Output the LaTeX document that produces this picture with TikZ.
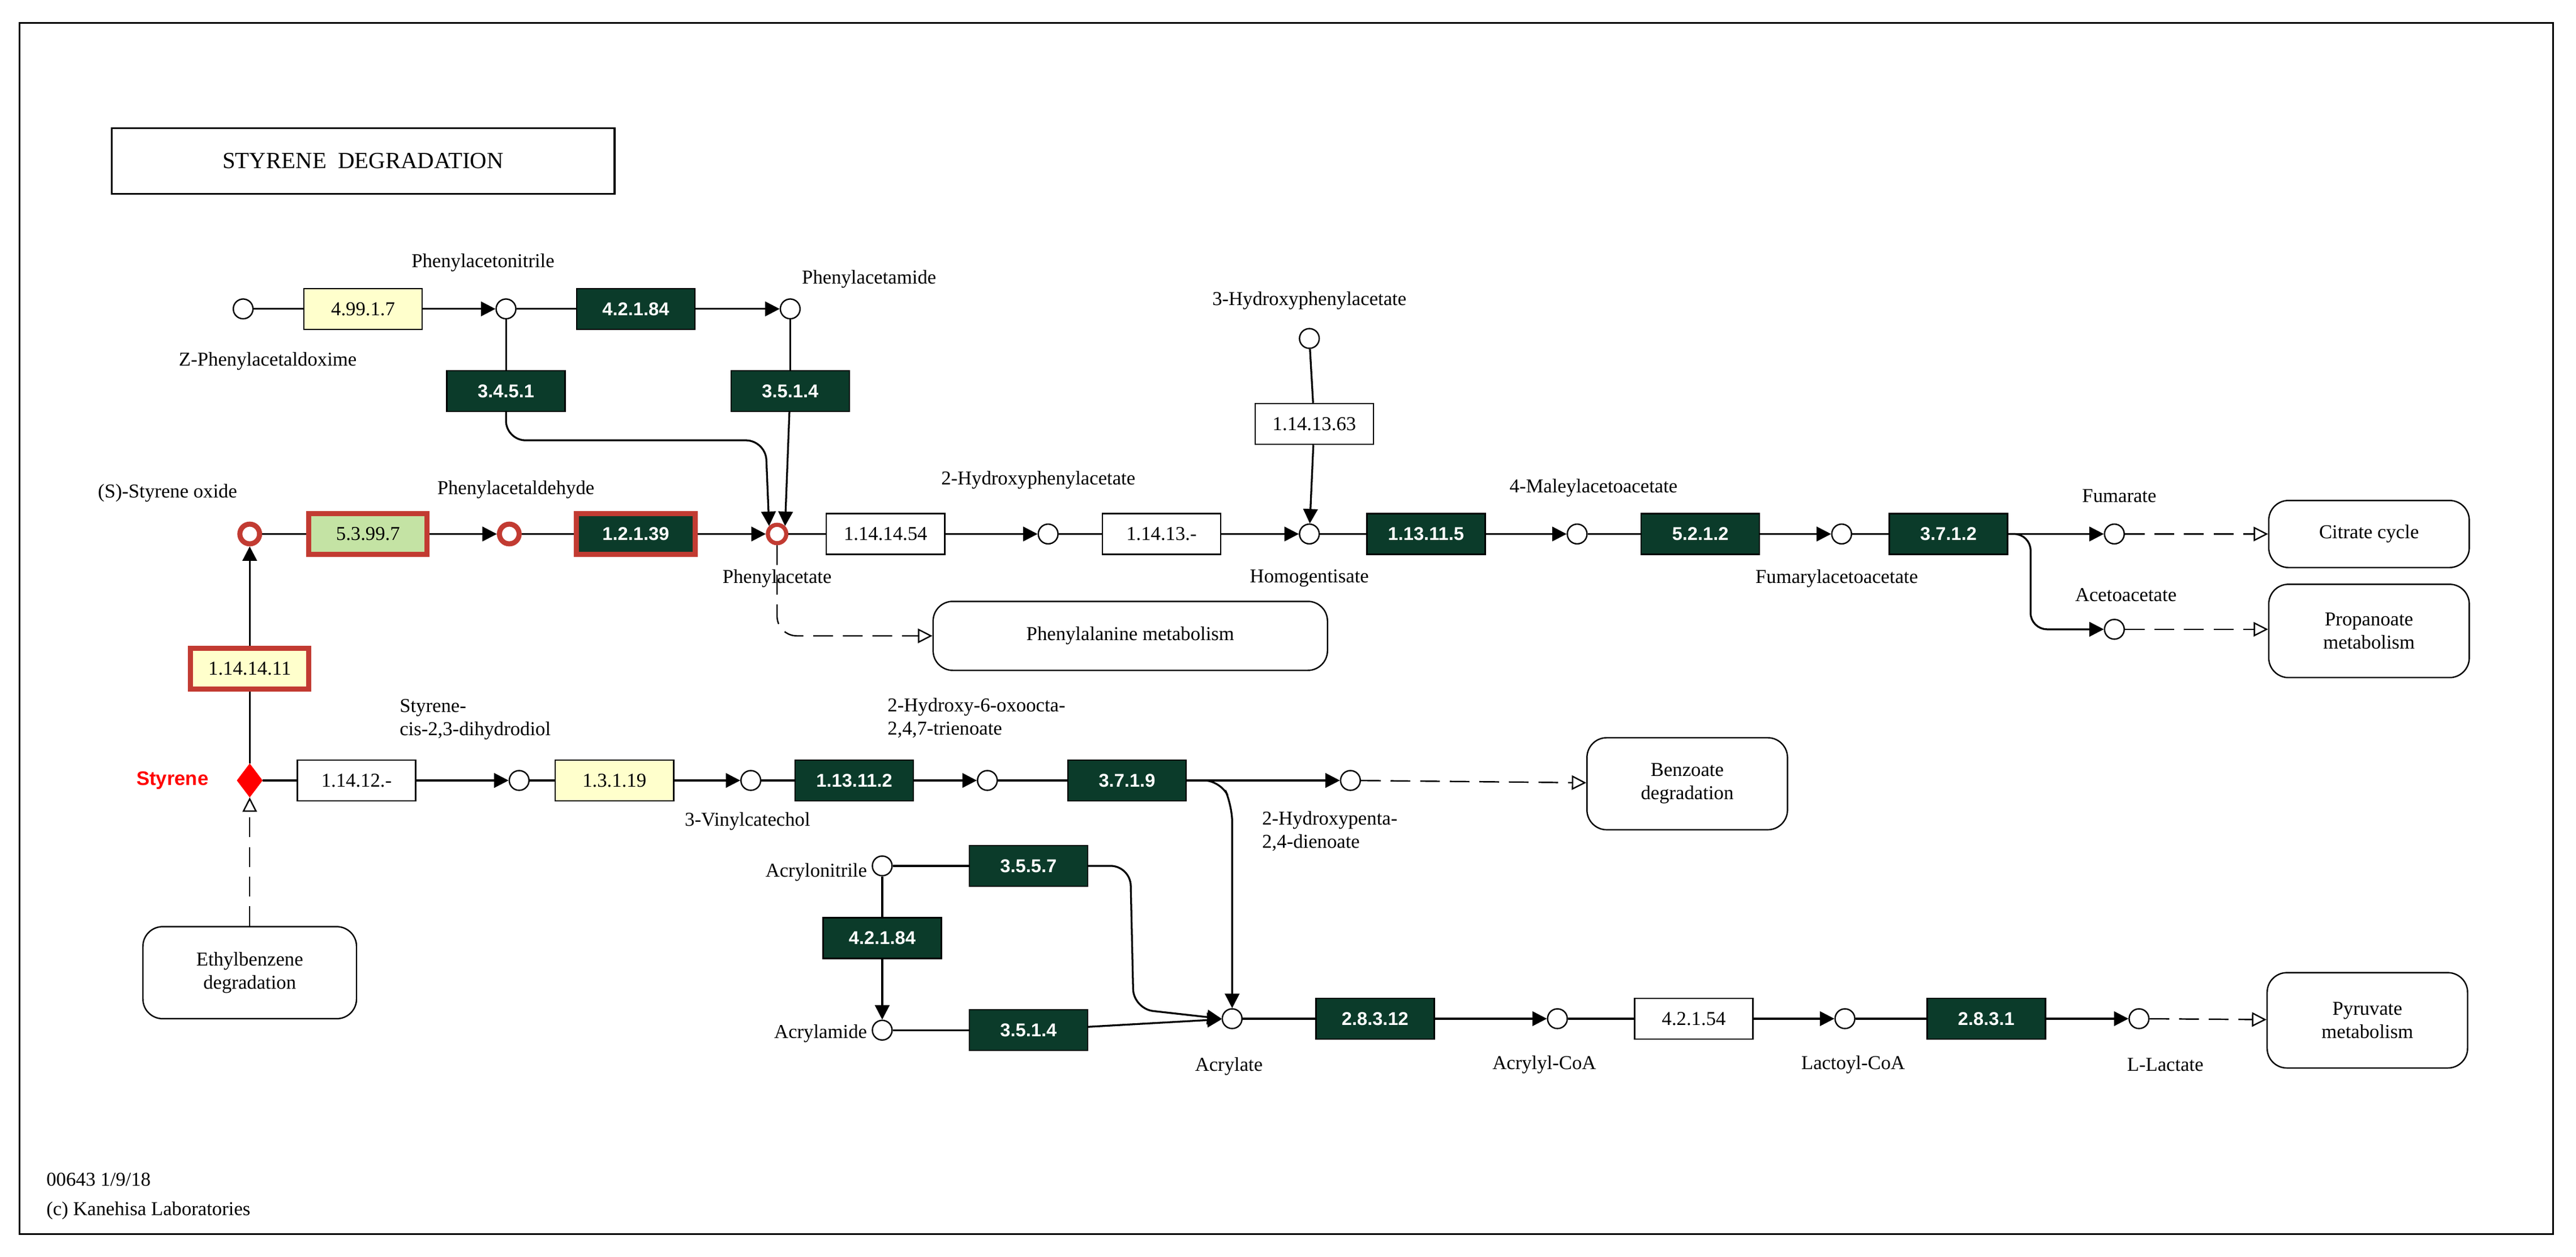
\documentclass[tikz,border=0pt]{standalone}
\usepackage{fontspec}
\setmainfont{Liberation Serif}
\newfontfamily\ecfont{Liberation Sans}
\usetikzlibrary{arrows.meta,shapes.geometric}
\definecolor{keggdark}{HTML}{0B3B2A}
\definecolor{keggyel}{HTML}{FFFFCC}
\definecolor{kegggrn}{HTML}{C4E3A4}
\definecolor{keggred}{HTML}{C23B32}
\tikzset{
  cpd/.style={shape=circle,draw=black,fill=white,minimum size=0.3cm,inner sep=0pt,line width=0.6pt},
  hit/.style={shape=circle,draw=keggred,fill=white,minimum size=0.3cm,inner sep=0pt,line width=2.2pt},
  ec/.style={shape=rectangle,draw=black,minimum width=1.8cm,minimum height=0.62cm,inner sep=1pt,font=\fontsize{8.5}{10}\selectfont,line width=0.6pt},
  ecw/.style={ec,fill=white},
  ecy/.style={ec,fill=keggyel},
  ecd/.style={ec,fill=keggdark,text=white,font=\ecfont\bfseries\fontsize{8}{10}\selectfont},
  lbl/.style={inner sep=0pt,font=\fontsize{8.5}{10}\selectfont,align=left},
  map/.style={shape=rectangle,rounded corners=0.3cm,draw=black,line width=0.6pt,font=\fontsize{8.5}{10}\selectfont,align=center},
  rx/.style={-{Triangle[length=0.22cm,width=0.22cm]},line width=0.8pt},
  ln/.style={line width=0.8pt},
  lk/.style={dashed,dash pattern=on 0.3cm off 0.15cm,-{Triangle[open,length=0.22cm,width=0.22cm]},line width=0.6pt}
}
\begin{document}
\begin{tikzpicture}[x=0.025cm,y=-0.025cm]
\useasboundingbox (0,0) rectangle (1568,765);
\draw[line width=0.8pt] (12,14) rectangle (1554,751);
\node[draw=black,line width=0.8pt,minimum width=7.65cm,minimum height=1cm,font=\fontsize{10}{12}\selectfont] (title) at (221,98) {STYRENE\ \ DEGRADATION};
% compounds
\node[cpd] (zpa) at (148,188) {};
\node[cpd] (pan) at (308,188) {};
\node[cpd] (pam) at (481,188) {};
\node[hit] (sox) at (152,325) {};
\node[hit] (pald) at (310,325) {};
\node[shape=circle,draw=keggred,fill=white,minimum size=0.28cm,inner sep=0pt,line width=1.8pt] (pac) at (473,325) {};
\node[cpd] (hpac) at (638,325) {};
\node[cpd] (hpa3) at (797,206) {};
\node[cpd] (hgt) at (797,325) {};
\node[cpd] (maa) at (960,325) {};
\node[cpd] (faa) at (1121,325) {};
\node[cpd] (fum) at (1287,325) {};
\node[cpd] (aca) at (1287,383) {};
\node[shape=diamond,fill=red,draw=red,minimum width=0.38cm,minimum height=0.5cm,inner sep=0pt] (sty) at (152,475) {};
\node[cpd] (sdh) at (316,475) {};
\node[cpd] (vct) at (457,475) {};
\node[cpd] (hot) at (601,475) {};
\node[cpd] (hpd) at (822,475) {};
\node[cpd] (acn) at (537,527) {};
\node[cpd] (acm) at (537,627) {};
\node[cpd] (acr) at (750,620) {};
\node[cpd] (acc) at (948,620) {};
\node[cpd] (lac) at (1123,620) {};
\node[cpd] (llac) at (1302,620) {};
% labels
\node[lbl] (lzpa) at (163,220) {Z-Phenylacetaldoxime};
\node[lbl] (lpan) at (294,160) {Phenylacetonitrile};
\node[lbl] (lpam) at (529,170) {Phenylacetamide};
\node[lbl] (lsox) at (102,300) {(S)-Styrene oxide};
\node[lbl] (lpald) at (314,298) {Phenylacetaldehyde};
\node[lbl] (lpac) at (473,352) {Phenylacetate};
\node[lbl] (lhpac) at (632,292) {2-Hydroxyphenylacetate};
\node[lbl] (lhpa3) at (797,183) {3-Hydroxyphenylacetate};
\node[lbl] (lhgt) at (797,352) {Homogentisate};
\node[lbl] (lmaa) at (970,297) {4-Maleylacetoacetate};
\node[lbl] (lfaa) at (1118,352) {Fumarylacetoacetate};
\node[lbl] (lfum) at (1290,302) {Fumarate};
\node[lbl] (laca) at (1294,362) {Acetoacetate};
\node[lbl,text=red,font=\ecfont\bfseries\fontsize{8.5}{10}\selectfont] (lsty) at (105,475) {Styrene};
\node[lbl,anchor=west] (lsdh) at (243,438) {Styrene-\\cis-2,3-dihydrodiol};
\node[lbl] (lvct) at (455,500) {3-Vinylcatechol};
\node[lbl,anchor=west] (lhot) at (540,437) {2-Hydroxy-6-oxoocta-\\2,4,7-trienoate};
\node[lbl,anchor=west] (lhpd) at (768,506) {2-Hydroxypenta-\\2,4-dienoate};
\node[lbl,anchor=east] (lacn) at (528,531) {Acrylonitrile};
\node[lbl,anchor=east] (lacm) at (528,629) {Acrylamide};
\node[lbl] (lacr) at (748,649) {Acrylate};
\node[lbl] (lacc) at (940,648) {Acrylyl-CoA};
\node[lbl] (llacc) at (1128,648) {Lactoyl-CoA};
\node[lbl] (lllac) at (1318,648) {L-Lactate};
\node[lbl,anchor=west] (ver) at (28,718) {00643 1/9/18};
\node[lbl,anchor=west] (copy) at (28,737) {(c) Kanehisa Laboratories};
% maps
\node[map,minimum width=3.05cm,minimum height=1.02cm] (mcit) at (1442,325) {Citrate cycle};
\node[map,minimum width=3.05cm,minimum height=1.42cm] (mpro) at (1442,384) {Propanoate\\metabolism};
\node[map,minimum width=6cm,minimum height=1.05cm] (mphe) at (688,387) {Phenylalanine metabolism};
\node[map,minimum width=3.05cm,minimum height=1.4cm] (mben) at (1027,477) {Benzoate\\degradation};
\node[map,minimum width=3.25cm,minimum height=1.4cm] (meth) at (152,592) {Ethylbenzene\\degradation};
\node[map,minimum width=3.05cm,minimum height=1.45cm] (mpyr) at (1441,621) {Pyruvate\\metabolism};
% enzymes
\node[ecy] (e4991) at (221,188) {4.99.1.7};
\node[ecd] (e42184a) at (387,188) {4.2.1.84};
\node[ecd] (e3451) at (308,238) {3.4.5.1};
\node[ecd] (e3514a) at (481,238) {3.5.1.4};
\node[ec,fill=kegggrn,draw=keggred,line width=2.2pt] (e53997) at (224,325) {5.3.99.7};
\node[ecd,draw=keggred,line width=2.2pt] (e12139) at (387,325) {1.2.1.39};
\node[ecw] (e1141454) at (539,325) {1.14.14.54};
\node[ecw] (e11413) at (707,325) {1.14.13.-};
\node[ecw] (e1141363) at (800,258) {1.14.13.63};
\node[ecd] (e113115) at (868,325) {1.13.11.5};
\node[ecd] (e5212) at (1035,325) {5.2.1.2};
\node[ecd] (e3712) at (1186,325) {3.7.1.2};
\node[ecy,draw=keggred,line width=2.2pt] (e1141411) at (152,407) {1.14.14.11};
\node[ecw] (e11412) at (217,475) {1.14.12.-};
\node[ecy] (e13119) at (374,475) {1.3.1.19};
\node[ecd] (e113112) at (520,475) {1.13.11.2};
\node[ecd] (e3719) at (686,475) {3.7.1.9};
\node[ecd] (e3557) at (626,527) {3.5.5.7};
\node[ecd] (e42184b) at (537,571) {4.2.1.84};
\node[ecd] (e3514b) at (626,627) {3.5.1.4};
\node[ecd] (e28312) at (837,620) {2.8.3.12};
\node[ecw] (e42154) at (1031,620) {4.2.1.54};
\node[ecd] (e2831) at (1209,620) {2.8.3.1};
% reactions
\draw[ln] (zpa) -- (e4991);
\draw[rx] (e4991) -- (pan);
\draw[ln] (pan) -- (e42184a);
\draw[rx] (e42184a) -- (pam);
\draw[ln] (pan) -- (e3451);
\draw[rx,rounded corners=0.3cm] (e3451) |- (466,268) -- (pac.north west);
\draw[ln] (pam) -- (e3514a);
\draw[rx] (e3514a) -- (pac.north east);
\draw[ln] (sox) -- (e53997);
\draw[rx] (e53997) -- (pald);
\draw[ln] (pald) -- (e12139);
\draw[rx] (e12139) -- (pac);
\draw[ln] (pac) -- (e1141454);
\draw[rx] (e1141454) -- (hpac);
\draw[ln] (hpac) -- (e11413);
\draw[rx] (e11413) -- (hgt);
\draw[ln] (hpa3) -- (e1141363);
\draw[rx] (e1141363) -- (hgt);
\draw[ln] (hgt) -- (e113115);
\draw[rx] (e113115) -- (maa);
\draw[ln] (maa) -- (e5212);
\draw[rx] (e5212) -- (faa);
\draw[ln] (faa) -- (e3712);
\draw[rx] (e3712) -- (fum);
\draw[rx,rounded corners=0.25cm] (e3712.east) -- (1236,325) |- (aca);
\draw[lk] (fum) -- (mcit);
\draw[lk] (aca) -- (mpro.west |- aca);
\draw[lk,rounded corners=0.3cm] (pac) |- (mphe);
\draw[ln] (sty) -- (e1141411);
\draw[rx] (e1141411) -- (sox);
\draw[lk] (meth) -- (sty);
\draw[ln] (sty) -- (e11412);
\draw[rx] (e11412) -- (sdh);
\draw[ln] (sdh) -- (e13119);
\draw[rx] (e13119) -- (vct);
\draw[ln] (vct) -- (e113112);
\draw[rx] (e113112) -- (hot);
\draw[ln] (hot) -- (e3719);
\draw[rx] (e3719) -- (hpd);
\draw[lk] (hpd) -- (mben);
\draw[rx,rounded corners=0.25cm] (e3719.east) -- (743,475) -- (750,490) -- (acr);
\draw[ln] (acn) -- (e3557);
\draw[rx,rounded corners=0.3cm] (e3557.east) -- (688,527) -- (690,614) -- (acr.west);
\draw[ln] (acn) -- (e42184b);
\draw[rx] (e42184b) -- (acm);
\draw[ln] (acm) -- (e3514b);
\draw[rx] (e3514b) -- (acr);
\draw[ln] (acr) -- (e28312);
\draw[rx] (e28312) -- (acc);
\draw[ln] (acc) -- (e42154);
\draw[rx] (e42154) -- (lac);
\draw[ln] (lac) -- (e2831);
\draw[rx] (e2831) -- (llac);
\draw[lk] (llac) -- (mpyr);
\end{tikzpicture}
\end{document}
